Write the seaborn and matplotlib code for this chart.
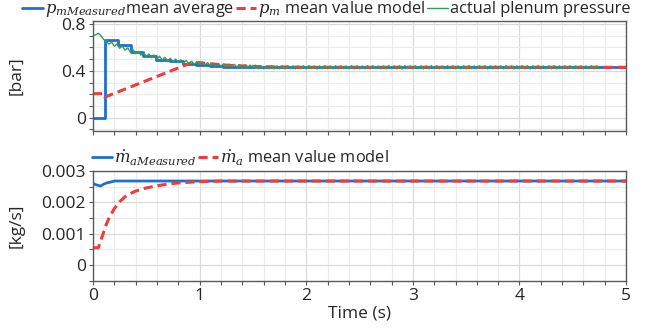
import numpy as np
import pandas as pd
import matplotlib
matplotlib.use("Agg")
import matplotlib.pyplot as plt
import matplotlib.ticker as mticker
import seaborn as sns

# ---------------- data ----------------
# top panel: plenum pressure [bar]
pm_meas_t = [0.0, 0.11, 0.235, 0.36, 0.47, 0.595, 0.72, 0.845, 0.97, 1.095, 1.22, 5.0]
pm_meas_v = [0.0, 0.66, 0.62, 0.56, 0.53, 0.495, 0.48, 0.462, 0.45, 0.44, 0.435, 0.43]

pm_model_t = [0.0, 0.10, 0.11, 0.94, 1.10, 1.30, 1.60, 2.00, 5.00]
pm_model_v = [0.205, 0.205, 0.175, 0.475, 0.46, 0.445, 0.435, 0.43, 0.43]

green_dt = 0.025
green_vals = [
    0.700, 0.708, 0.720, 0.700, 0.668, 0.650, 0.628, 0.645, 0.610, 0.630,
    0.592, 0.612, 0.576, 0.596, 0.560, 0.581, 0.546, 0.567, 0.534, 0.555,
    0.522, 0.544, 0.512, 0.534, 0.502, 0.524, 0.493, 0.515, 0.485, 0.507,
    0.478, 0.500, 0.472, 0.494, 0.466, 0.488, 0.461, 0.482, 0.456, 0.478,
    0.452, 0.474, 0.448, 0.470, 0.445, 0.466, 0.442, 0.463, 0.439, 0.460,
    0.437, 0.457, 0.435, 0.455, 0.433, 0.453, 0.431, 0.451, 0.430, 0.449,
    0.426, 0.448, 0.418,
    0.443, 0.417, 0.442, 0.418, 0.444, 0.416, 0.443, 0.418, 0.442, 0.417,
    0.444, 0.417, 0.443, 0.416, 0.442, 0.418, 0.443, 0.417, 0.444, 0.418,
    0.442, 0.416, 0.443, 0.417, 0.444, 0.418, 0.442, 0.417, 0.443, 0.416,
    0.443, 0.418, 0.442, 0.417, 0.444, 0.416, 0.443, 0.417, 0.442, 0.418,
    0.444, 0.417, 0.443, 0.418, 0.442, 0.416, 0.443, 0.417, 0.444, 0.418,
    0.442, 0.417, 0.443, 0.416, 0.444, 0.418, 0.442, 0.417, 0.443, 0.418,
    0.443, 0.416, 0.442, 0.417, 0.444, 0.418, 0.443, 0.417, 0.442, 0.416,
    0.444, 0.418, 0.443, 0.417, 0.442, 0.418, 0.443, 0.416, 0.444, 0.417,
    0.442, 0.418, 0.443, 0.417, 0.444, 0.416, 0.443, 0.418, 0.442, 0.417,
    0.443, 0.416, 0.444, 0.418, 0.442, 0.417, 0.443, 0.418, 0.444, 0.417,
    0.442, 0.416, 0.443, 0.418, 0.444, 0.417, 0.442, 0.418, 0.443, 0.417,
    0.444, 0.416, 0.443, 0.418, 0.442, 0.417, 0.443, 0.418, 0.442, 0.417,
    0.443, 0.417, 0.442, 0.418, 0.443, 0.417, 0.442, 0.418,
]
green_t = [round(i * green_dt, 3) for i in range(len(green_vals))]

# bottom panel: air mass flow [kg/s]
ma_meas_t = [0.0, 0.03, 0.07, 0.10, 0.13, 0.17, 0.20, 0.25, 5.0]
ma_meas_v = [0.00260, 0.00256, 0.00252, 0.00258, 0.00262, 0.00265, 0.00268, 0.00268, 0.00268]

ma_model_t = [0.0, 0.05, 0.075, 0.10, 0.125, 0.15, 0.20, 0.25, 0.30, 0.35, 0.40,
              0.50, 0.60, 0.70, 0.80, 0.90, 1.00, 1.20, 1.50, 5.00]
ma_model_v = [0.00055, 0.00055, 0.00080, 0.00105, 0.00130, 0.00150, 0.00180, 0.00202,
              0.00218, 0.00228, 0.00236, 0.00246, 0.00253, 0.00258, 0.00262, 0.00264,
              0.00266, 0.00268, 0.00268, 0.00268]

top_yticks = [0, 0.4, 0.8]
bot_yticks = [0, 0.001, 0.002, 0.003]
x_ticks = [0, 1, 2, 3, 4, 5]

# ---------------- style ----------------
sns.set_theme(style="white")
plt.rcParams["font.family"] = ["Open Sans", "DejaVu Sans"]
plt.rcParams["mathtext.fontset"] = "dejavuserif"

BLUE = "#1f6fd1"
RED = "#f03c3c"
GREEN = "#2f9e5c"

fig = plt.figure(figsize=(6.59, 3.31), dpi=100)
ax1 = fig.add_axes([0.1411, 0.6042, 0.809, 0.3333])
ax2 = fig.add_axes([0.1411, 0.152, 0.809, 0.3314])

df_pm = pd.DataFrame({"t": pm_meas_t, "v": pm_meas_v})
df_pmm = pd.DataFrame({"t": pm_model_t, "v": pm_model_v})
df_g = pd.DataFrame({"t": green_t, "v": green_vals})
df_ma = pd.DataFrame({"t": ma_meas_t, "v": ma_meas_v})
df_mam = pd.DataFrame({"t": ma_model_t, "v": ma_model_v})

sns.lineplot(data=df_pm, x="t", y="v", ax=ax1, color=BLUE, lw=2.0,
             drawstyle="steps-post", estimator=None, sort=False,
             label=r"$p_{mMeasured}$mean average")
sns.lineplot(data=df_pmm, x="t", y="v", ax=ax1, color=RED, lw=2.2,
             dashes=False, linestyle=(0, (3, 1.6)), estimator=None, sort=False,
             label=r"$p_m$ mean value model")
sns.lineplot(data=df_g, x="t", y="v", ax=ax1, color=GREEN, lw=1.0,
             estimator=None, sort=False, label="actual plenum pressure")

sns.lineplot(data=df_ma, x="t", y="v", ax=ax2, color=BLUE, lw=2.0,
             estimator=None, sort=False, label=r"$\dot{m}_{aMeasured}$")
sns.lineplot(data=df_mam, x="t", y="v", ax=ax2, color=RED, lw=2.2,
             dashes=False, linestyle=(0, (3, 1.6)), estimator=None, sort=False,
             label=r"$\dot{m}_a$ mean value model")

for ax in (ax1, ax2):
    ax.set_xlim(0, 5)
    ax.set_xticks(x_ticks)
    ax.xaxis.set_minor_locator(mticker.MultipleLocator(0.2))
    ax.grid(True, which="major", color="#dadada", lw=0.9)
    ax.grid(True, which="minor", color="#ebebeb", lw=0.8)
    ax.set_axisbelow(True)
    for s in ax.spines.values():
        s.set_visible(True)
        s.set_color("#5a5a5a")
        s.set_linewidth(1.0)
    ax.tick_params(which="both", direction="out", length=3, width=0.8,
                   color="#5a5a5a", labelsize=12.5, pad=2,
                   bottom=True, left=True)
    ax.set_xlabel("")
    ax.set_ylabel("")

ax1.set_ylim(-0.114, 0.828)
ax1.set_yticks(top_yticks)
ax1.yaxis.set_minor_locator(mticker.MultipleLocator(0.1))
ax1.yaxis.set_major_formatter(mticker.FuncFormatter(lambda v, p: f"{v:g}"))
ax1.tick_params(axis="x", labelbottom=False)
ax1.set_ylabel("[bar]", fontsize=12.5)
ax1.yaxis.set_label_coords(-0.128, 0.5)

ax2.set_ylim(-0.0005, 0.003)
ax2.set_yticks(bot_yticks)
ax2.yaxis.set_minor_locator(mticker.MultipleLocator(0.0005))
ax2.yaxis.set_major_formatter(mticker.FuncFormatter(lambda v, p: f"{v:g}"))
ax2.set_xticklabels([str(x) for x in x_ticks])
ax2.set_ylabel("[kg/s]", fontsize=12.5)
ax2.yaxis.set_label_coords(-0.128, 0.5)
ax2.set_xlabel("Time (s)", fontsize=12.5, labelpad=1)

leg_kw = dict(frameon=False, borderpad=0, borderaxespad=0, handlelength=1.25,
              handletextpad=0.12, columnspacing=0.1, fontsize=11.8,
              bbox_transform=fig.transFigure)
h1, l1 = ax1.get_legend_handles_labels()
ax1.legend(h1, l1, loc="center left", bbox_to_anchor=(0.034, 0.972), ncol=3, **leg_kw)
h2, l2 = ax2.get_legend_handles_labels()
ax2.legend(h2, l2, loc="center left", bbox_to_anchor=(0.139, 0.523), ncol=2, **leg_kw)

fig.savefig("out.png", dpi=100)
